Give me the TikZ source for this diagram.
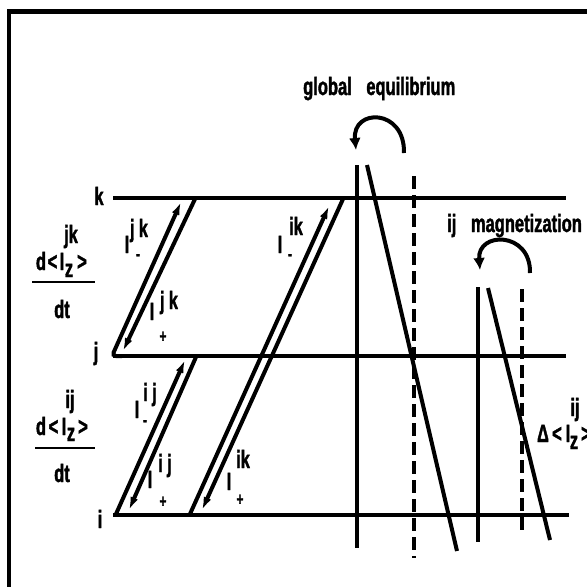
\documentclass[tikz,border=0pt]{standalone}
\usepackage{fontspec}
\setmainfont{Liberation Sans}[FakeStretch=0.66, BoldFeatures={FakeBold=1.5}]
\usetikzlibrary{arrows.meta}
\begin{document}
\begin{tikzpicture}[x=1pt,y=-1pt,
  txt/.style={font=\fontsize{25}{27}\selectfont\bfseries, inner sep=0pt, anchor=base},
  pm/.style={font=\fontsize{18}{19}\selectfont\bfseries, inner sep=0pt},
  levelline/.style={line width=3.2pt},
  arr/.style={line width=4pt, -{Latex[length=13pt,width=8pt]}},
  solidv/.style={line width=4pt},
  dashv/.style={line width=3.8pt, dash pattern=on 13pt off 6pt},
  turn/.style={line width=4pt, -{Latex[length=12pt,width=12pt]}},
  fracline/.style={line width=2.5pt}
]
\useasboundingbox (0,0) rectangle (587,587);
% frame
\draw[line width=5pt] (7,11) -- (587,11);
\draw[line width=3.5pt] (9,9) -- (9,587);

% energy levels
\coordinate (kL) at (113,198); \coordinate (kR) at (566,198);
\coordinate (jL) at (113,356); \coordinate (jR) at (566,356);
\coordinate (iL) at (113,515); \coordinate (iR) at (569,515);
\draw[levelline] (kL) -- (kR);
\draw[levelline] (jL) -- (jR);
\draw[levelline] (iL) -- (iR);
\node[txt] (klab) at (99,205) {k};
\node[txt] (jlab) at (96,360) {j};
\node[txt] (ilab) at (100,528) {i};

% jk transitions
\coordinate (jkA0) at (122,356); \coordinate (jkA1) at (112,356); \coordinate (jkA2) at (181,202);
\coordinate (jkB0) at (195,199); \coordinate (jkB1) at (123,351);
\draw[arr, rounded corners=4pt] (jkA0) -- (jkA1) -- (jkA2);
\draw[arr] (jkB0) -- (jkB1);
% ij transitions
\coordinate (ijA0) at (116,514); \coordinate (ijA1) at (185,360);
\coordinate (ijB0) at (196,357); \coordinate (ijB1) at (129,510);
\draw[arr] (ijA0) -- (ijA1);
\draw[arr] (ijB0) -- (ijB1);
% ik transitions
\coordinate (ikA0) at (190,514); \coordinate (ikA1) at (329,206);
\coordinate (ikB0) at (343,199); \coordinate (ikB1) at (202,510);
\draw[arr] (ikA0) -- (ikA1);
\draw[arr] (ikB0) -- (ikB1);

% transition labels
\node[txt] (I1) at (127,253) {I};
\node[txt] (I1s) at (139,237) {j\,k};
\node[pm] (I1m) at (138,257) {-};
\node[txt] (I2) at (152,320) {I};
\node[txt] (I2s) at (169,309) {j\,k};
\node[pm] (I2p) at (163,337) {+};
\node[txt] (I3) at (137,418) {I};
\node[txt] (I3s) at (150,401) {i\,j};
\node[pm] (I3m) at (145,423) {-};
\node[txt] (I4) at (150,488) {I};
\node[txt] (I4s) at (165,472) {i\,j};
\node[pm] (I4p) at (163,502) {+};
\node[txt] (I5) at (280,253) {I};
\node[txt] (I5s) at (296,235) {ik};
\node[pm] (I5m) at (290,257) {-};
\node[txt] (I6) at (229,490) {I};
\node[txt] (I6s) at (243,468) {ik};
\node[pm] (I6p) at (240,500) {+};

% fraction jk
\node[txt] (f1d) at (41,270) {d};
\node[txt] (f1lt) at (52.5,270) {<};
\node[txt] (f1I) at (62,270) {I};
\node[txt] (f1z) at (69,277) {z};
\node[txt] (f1gt) at (82,270) {>};
\node[txt] (f1s) at (71,243) {jk};
\coordinate (f1a) at (32,282); \coordinate (f1b) at (95,282);
\draw[fracline] (f1a) -- (f1b);
\node[txt] (f1dt) at (62,318) {dt};
% fraction ij
\node[txt] (f2d) at (41,435) {d};
\node[txt] (f2lt) at (53.5,435) {<};
\node[txt] (f2I) at (64,435) {I};
\node[txt] (f2z) at (71,441) {z};
\node[txt] (f2gt) at (83,435) {>};
\node[txt] (f2s) at (70,408) {ij};
\coordinate (f2a) at (35,448); \coordinate (f2b) at (95,448);
\draw[fracline] (f2a) -- (f2b);
\node[txt] (f2dt) at (62,482) {dt};

% global equilibrium
\node[txt, anchor=base west] (glob) at (303,95) {global\hspace{10pt} equilibrium};
\coordinate (g1a) at (357,165); \coordinate (g1b) at (357,548);
\coordinate (g2a) at (367,165); \coordinate (g2b) at (457,551);
\coordinate (g3a) at (414,176); \coordinate (g3b) at (414,558);
\draw[solidv] (g1a) -- (g1b);
\draw[solidv] (g2a) -- (g2b);
\draw[dashv] (g3a) -- (g3b);
\coordinate (gt0) at (404,153); \coordinate (gt1) at (356,150);
\draw[turn] (gt0) .. controls (405,108) and (352,108) .. (gt1);

% ij magnetization
\node[txt, anchor=base west] (mag) at (447,232) {ij\hspace{10pt} magnetization};
\coordinate (m1a) at (478,287); \coordinate (m1b) at (478,542);
\coordinate (m2a) at (488,288); \coordinate (m2b) at (550,540);
\coordinate (m3a) at (522,289); \coordinate (m3b) at (522,533);
\draw[solidv] (m1a) -- (m1b);
\draw[solidv] (m2a) -- (m2b);
\draw[dashv] (m3a) -- (m3b);
\coordinate (mt0) at (530,273); \coordinate (mt1) at (480,270);
\draw[turn] (mt0) .. controls (531,231) and (477,231) .. (mt1);

% Delta label
\node[txt] (dD) at (543,442) {Δ};
\node[txt] (dlt) at (557,442) {<};
\node[txt] (dI) at (568,442) {I};
\node[txt] (dz) at (574,449) {z};
\node[txt] (dgt) at (586,442) {>};
\node[txt] (ds) at (575,416) {ij};
\end{tikzpicture}
\end{document}
